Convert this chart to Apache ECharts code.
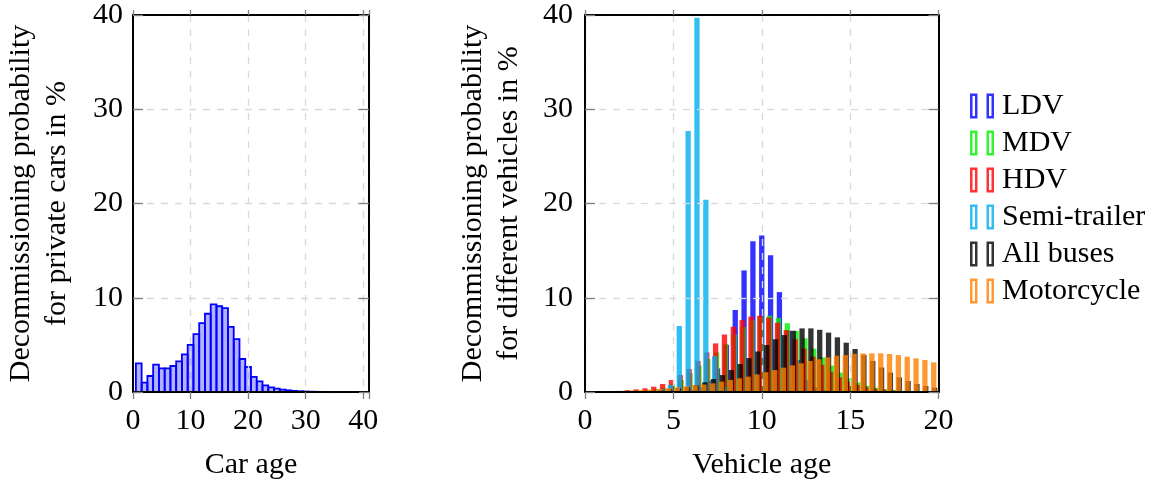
<!DOCTYPE html>
<html>
<head>
<meta charset="utf-8">
<script src="https://cdn.jsdelivr.net/npm/echarts@6/dist/echarts.min.js"></script>
<style>
html,body{margin:0;padding:0;background:#fff;}
#chart{width:1157px;height:486px;}
</style>
</head>
<body>
<div id="chart"></div>
<script>
// ---------- data ----------
const carAges = [1,2,3,4,5,6,7,8,9,10,11,12,13,14,15,16,17,18,19,20,21,22,23,24,25,26,27,28,29,30,31,32,33,34,35,36,37];
const carProb = [3.04,1.0,1.7,2.9,2.5,2.5,2.76,3.25,4.0,5.0,6.15,7.3,8.3,9.3,9.1,8.9,6.9,5.6,3.5,2.65,1.6,1.13,0.7,0.5,0.35,0.25,0.18,0.12,0.08,0.05,0.03,0.02,0.01,0.01,0.005,0.005,0.002];

const vehAges = [0.5,1.0,1.5,2.0,2.5,3.0,3.5,4.0,4.5,5.0,5.5,6.0,6.5,7.0,7.5,8.0,8.5,9.0,9.5,10.0,10.5,11.0,11.5,12.0,12.5,13.0,13.5,14.0,14.5,15.0,15.5,16.0,16.5,17.0,17.5,18.0,18.5,19.0,19.5,20.0];
const ldv   = [0,0,0,0,0,0,0.01,0.02,0.03,0.05,0.08,0.2,0.5,1.2,2.5,5.0,8.7,12.9,16.0,16.6,14.5,10.6,6.5,3.4,1.3,0.5,0.2,0.08,0.03,0.01,0,0,0,0,0,0,0,0,0,0];
const mdv   = [0.02,0.03,0.05,0.07,0.1,0.15,0.22,0.32,0.45,0.8,1.27,2.0,2.8,3.5,4.2,5.1,6.1,6.9,7.6,8.0,8.1,7.85,7.3,6.47,5.7,4.6,3.67,2.8,2.05,1.45,1.0,0.67,0.46,0.3,0.2,0.13,0.08,0.05,0.03,0.02];
const hdv   = [0.02,0.05,0.08,0.12,0.2,0.28,0.39,0.56,0.85,1.27,1.8,2.44,3.3,4.2,5.16,6.1,6.93,7.63,8.0,8.1,7.9,7.35,6.57,5.6,4.6,3.75,2.86,2.15,1.55,1.1,0.74,0.5,0.35,0.24,0.16,0.1,0.07,0.04,0.03,0.02];
const semi  = [0,0,0,0,0,0,0,0.05,0.3,0.75,7.0,27.7,39.7,20.4,3.8,0.5,0.05,0,0,0,0,0,0,0,0,0,0,0,0,0,0,0,0,0,0,0,0,0,0,0];
const buses = [0.005,0.01,0.02,0.03,0.05,0.08,0.12,0.16,0.22,0.3,0.4,0.52,0.72,1.03,1.38,1.8,2.33,2.97,3.6,4.3,4.98,5.6,6.04,6.5,6.75,6.75,6.6,6.3,5.8,5.23,4.56,3.92,3.29,2.6,2.05,1.55,1.17,0.85,0.64,0.46];
const moto  = [0.03,0.05,0.07,0.1,0.13,0.17,0.21,0.26,0.32,0.4,0.5,0.6,0.72,0.8,0.92,1.1,1.27,1.45,1.63,1.87,2.1,2.33,2.58,2.83,3.04,3.29,3.48,3.67,3.85,3.92,4.05,4.1,4.1,4.1,4.03,3.92,3.75,3.57,3.4,3.15];

const seriesNames = ['LDV','MDV','HDV','Semi-trailer','All buses','Motorcycle'];
const seriesValues = [ldv, mdv, hdv, semi, buses, moto];

// ---------- style ----------
const FONT = 'Liberation Serif';
const FS = 30;
const colors = ['rgba(0,0,255,0.8)','rgba(0,240,0,0.8)','rgba(255,0,0,0.8)','rgba(0,174,239,0.8)','rgba(0,0,0,0.8)','rgba(255,128,0,0.8)'];
const shifts = [0, -0.055, -0.11, -0.165, -0.22, -0.27];
const halfW = 0.15;

function barRenderer(offset, hw, fill, stroke, lw) {
  return function (params, api) {
    const x = api.value(0) + offset;
    const y = api.value(1);
    const p0 = api.coord([x - hw, y]);
    const p1 = api.coord([x + hw, 0]);
    const cs = params.coordSys;
    const shape = echarts.graphic.clipRectByRect(
      {x: p0[0], y: p0[1], width: p1[0] - p0[0], height: p1[1] - p0[1]},
      {x: cs.x, y: cs.y, width: cs.width, height: cs.height + 2}
    );
    if (!shape) return null;
    const style = {fill: fill};
    if (stroke) { style.stroke = stroke; style.lineWidth = lw; }
    return {type: 'rect', shape: shape, style: style};
  };
}

const tickStyle = {color: '#808080', width: 1.3};
const splitStyle = {type: [7, 7], color: '#d9d9d9', width: 1.3};
const lineStyle = {color: '#000', width: 2};
const labelStyle = {fontFamily: FONT, fontSize: FS, color: '#000'};

function xBottom(gi, max, interval, name) {
  return {
    gridIndex: gi, type: 'value', min: 0, max: max, interval: interval, position: 'bottom', z: 10,
    axisLine: {show: true, onZero: false, lineStyle: lineStyle},
    axisTick: {show: true, inside: false, length: 7, lineStyle: tickStyle},
    axisLabel: Object.assign({margin: 14, formatter: v => (v % interval === 0 ? String(v) : '')}, labelStyle),
    splitLine: {show: true, lineStyle: splitStyle},
    name: name, nameLocation: 'middle', nameGap: 58,
    nameTextStyle: labelStyle
  };
}
function xTop(gi, max, interval) {
  return {
    gridIndex: gi, type: 'value', min: 0, max: max, interval: interval, position: 'top', z: 10,
    axisLine: {show: true, onZero: false, lineStyle: lineStyle},
    axisTick: {show: true, inside: false, length: 5, lineStyle: tickStyle},
    axisLabel: {show: false}, splitLine: {show: false}
  };
}
function yLeft(gi, name, margin) {
  return {
    gridIndex: gi, type: 'value', min: 0, max: 40, interval: 10, position: 'left', z: 10,
    axisLine: {show: true, onZero: false, lineStyle: lineStyle},
    axisTick: {show: true, inside: true, length: 10, lineStyle: tickStyle},
    axisLabel: Object.assign({margin: margin}, labelStyle),
    splitLine: {show: true, lineStyle: splitStyle},
    name: name, nameLocation: 'middle', nameRotate: 90, nameGap: 58,
    nameTextStyle: Object.assign({lineHeight: 36}, labelStyle)
  };
}
function yRight(gi) {
  return {
    gridIndex: gi, type: 'value', min: 0, max: 40, interval: 10, position: 'right', z: 10,
    axisLine: {show: true, onZero: false, lineStyle: lineStyle},
    axisTick: {show: true, inside: true, length: 10, lineStyle: tickStyle},
    axisLabel: {show: false}, splitLine: {show: false}
  };
}

const series = [];
series.push({
  type: 'custom', name: 'Private cars', xAxisIndex: 0, yAxisIndex: 0, z: 2,
  encode: {x: 0, y: 1},
  data: carAges.map((a, i) => [a, carProb[i]]),
  renderItem: barRenderer(0, 0.5, 'rgba(0,0,255,0.3)', '#0000ff', 1.8)
});
seriesNames.forEach((nm, k) => {
  series.push({
    type: 'custom', name: nm, xAxisIndex: 2, yAxisIndex: 2, z: 2,
    encode: {x: 0, y: 1},
    itemStyle: {color: colors[k]},
    data: vehAges.map((a, i) => [a, seriesValues[k][i]]),
    renderItem: barRenderer(shifts[k], halfW, colors[k], null, 0)
  });
});

const iconPath = 'path://M0,0 L7.5,0 L7.5,25 L0,25 Z M2.5,2.5 L2.5,22.5 L5,22.5 L5,2.5 Z M16.5,0 L24,0 L24,25 L16.5,25 Z M19,2.5 L19,22.5 L21.5,22.5 L21.5,2.5 Z';

const option = {
  backgroundColor: '#fff',
  animation: false,
  grid: [
    {left: 133, top: 15, width: 236, height: 377, containLabel: false},
    {left: 585, top: 15, width: 353.5, height: 377, containLabel: false}
  ],
  xAxis: [
    xBottom(0, 41, 10, 'Car age'), xTop(0, 41, 10),
    xBottom(1, 20, 5, 'Vehicle age'), xTop(1, 20, 5)
  ],
  yAxis: [
    yLeft(0, 'Decommissioning probability\nfor private cars in %', 10), yRight(0),
    yLeft(1, 'Decommissioning probability\nfor different vehicles in %', 12), yRight(1)
  ],
  legend: {
    orient: 'vertical', left: 970, top: 91, padding: 0,
    itemWidth: 24, itemHeight: 25, itemGap: 7,
    icon: iconPath,
    itemStyle: {borderWidth: 0},
    textStyle: {fontFamily: FONT, fontSize: FS, color: '#000', lineHeight: 30, padding: [0, 0, 0, 3]},
    data: seriesNames
  },
  series: series
};

const chart = echarts.init(document.getElementById('chart'), null, {renderer: 'canvas'});
chart.setOption(option);
</script>
</body>
</html>
